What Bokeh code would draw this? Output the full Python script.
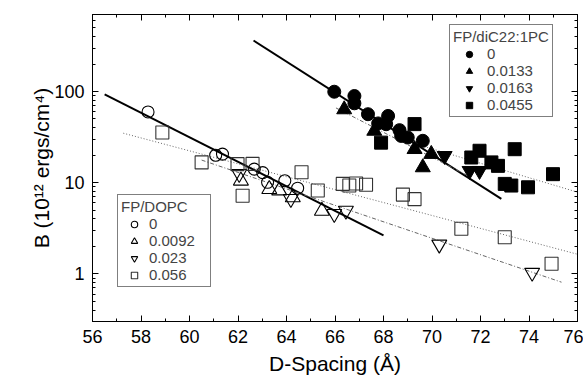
from bokeh.plotting import figure
from bokeh.models import (Range1d, LinearAxis, LogAxis, FixedTicker, CustomJSTickFormatter,
                          Legend, LegendItem)
from bokeh.embed import file_html
from bokeh.resources import INLINE

# ---------------- data ----------------
# FP/diC22:1PC (filled symbols)
c22_0_d = [65.97, 66.80, 66.80, 67.36, 68.19, 67.78, 68.11, 68.66, 68.73, 69.00, 69.62]
c22_0_b = [99.5, 89.3, 74.3, 56.4, 54.0, 44.7, 43.8, 37.7, 32.6, 31.3, 28.8]
c22_0133_d = [66.38, 67.62, 69.28, 69.97, 69.62]
c22_0133_b = [63.6, 37.0, 23.3, 20.6, 14.7]
c22_0163_d = [70.52, 71.55, 71.96]
c22_0163_b = [19.7, 13.5, 13.5]
c22_0455_d = [67.90, 69.28, 71.62, 71.96, 72.45, 72.72, 73.41, 73.00, 73.27, 73.96, 74.99]
c22_0455_b = [27.5, 43.9, 18.9, 22.4, 16.7, 15.3, 23.3, 9.7, 9.3, 8.9, 12.4]

# FP/DOPC (open symbols)
dopc_0_d = [58.29, 61.08, 61.36, 62.67, 63.02, 63.22, 63.93, 64.46]
dopc_0_b = [59.7, 20.0, 20.6, 14.1, 12.9, 10.1, 10.5, 8.7]
dopc_0092_d = [62.12, 63.29, 63.70, 64.26, 65.46]
dopc_0092_b = [10.5, 8.5, 8.2, 6.9, 4.9]
dopc_023_d = [62.05, 64.18, 65.97, 66.45, 70.30, 74.13]
dopc_023_b = [12.5, 6.65, 4.55, 4.95, 2.10, 1.03]
dopc_056_d = [58.88, 60.50, 61.98, 62.60, 62.19, 64.62, 65.29, 66.32, 66.59, 66.87, 67.28,
              68.80, 69.28, 71.21, 73.00, 74.93]
dopc_056_b = [35.5, 16.7, 16.0, 16.1, 7.2, 13.0, 8.2, 9.7, 9.3, 9.8, 9.5,
              7.4, 6.6, 3.12, 2.52, 1.29]

# fitted lines (end points)
fit_dopc_0_d = [56.5, 68.0]
fit_dopc_0_b = [93.0, 2.64]
fit_c22_0_d = [62.64, 72.86]
fit_c22_0_b = [363.0, 6.64]
fit_dopc_056_d = [57.27, 76.0]
fit_dopc_056_b = [34.9, 1.64]
fit_dopc_023_d = [60.5, 75.34]
fit_dopc_023_b = [17.7, 0.81]
fit_c22_0133_d = [66.04, 71.41]
fit_c22_0133_b = [66.1, 12.2]
fit_c22_0455_d = [68.73, 76.0]
fit_c22_0455_b = [29.7, 7.87]

x_ticks = [56, 58, 60, 62, 64, 66, 68, 70, 72, 74, 76]
x_minor = [57, 59, 61, 63, 65, 67, 69, 71, 73, 75]
y_ticks = [1, 10, 100]
y_minor = [0.3, 0.4, 0.5, 0.6, 0.7, 0.8, 0.9, 2, 3, 4, 5, 6, 7, 8, 9,
           20, 30, 40, 50, 60, 70, 80, 90, 200, 300, 400, 500, 600, 700]

FONT = "Liberation Sans"

p = figure(width=583, height=382, output_backend="svg", toolbar_location=None,
           y_axis_type="log", x_range=Range1d(56, 76), y_range=Range1d(0.3, 700),
           min_border_left=92, min_border_right=6, min_border_top=14, min_border_bottom=61)
p.background_fill_color = "white"
p.border_fill_color = "white"
p.outline_line_color = "black"
p.outline_line_width = 1
p.grid.visible = False

xt = FixedTicker(ticks=x_ticks, minor_ticks=x_minor)
yt = FixedTicker(ticks=y_ticks, minor_ticks=y_minor)
fmt = CustomJSTickFormatter(code="return String(tick)")
blank = CustomJSTickFormatter(code="return ''")

def style(ax, labels=True):
    ax.major_tick_in = 6
    ax.major_tick_out = 0
    ax.minor_tick_in = 3
    ax.minor_tick_out = 0
    ax.axis_line_color = "black"
    ax.major_tick_line_color = "black"
    ax.minor_tick_line_color = "black"
    if labels:
        ax.major_label_text_font = FONT
        ax.major_label_text_font_size = "18px"
        ax.major_label_text_color = "black"
        ax.major_label_standoff = 8
        ax.axis_label_text_font = FONT
        ax.axis_label_text_font_size = "21px"
        ax.axis_label_text_font_style = "normal"
        ax.axis_label_text_color = "black"
    else:
        ax.major_label_text_color = None
        ax.major_label_standoff = 0
        ax.axis_label = None

xa = p.xaxis[0]
xa.ticker = xt
xa.formatter = fmt
xa.axis_label = "D-Spacing (Å)"
style(xa)
xa.axis_label_standoff = 6

ya = p.yaxis[0]
ya.ticker = yt
ya.formatter = fmt
ya.axis_label = "B (10¹² ergs/cm⁴)"
style(ya)
ya.axis_label_standoff = -2

top = LinearAxis(ticker=FixedTicker(ticks=x_ticks, minor_ticks=x_minor), formatter=blank)
style(top, labels=False)
p.add_layout(top, "above")
right = LogAxis(ticker=FixedTicker(ticks=y_ticks, minor_ticks=y_minor), formatter=blank)
style(right, labels=False)
p.add_layout(right, "right")

# fit lines
p.line(fit_dopc_0_d, fit_dopc_0_b, line_color="black", line_width=2)
p.line(fit_c22_0_d, fit_c22_0_b, line_color="black", line_width=2)
p.line(fit_dopc_056_d, fit_dopc_056_b, line_color="#666666", line_width=1, line_dash="1 2")
p.line(fit_dopc_023_d, fit_dopc_023_b, line_color="#666666", line_width=1, line_dash="4 2 1 2")
p.line(fit_c22_0133_d, fit_c22_0133_b, line_color="#666666", line_width=1, line_dash="4 2 1 2")
p.line(fit_c22_0455_d, fit_c22_0455_b, line_color="#666666", line_width=1, line_dash="1 2")

# open symbols
r_o0 = p.scatter(dopc_0_d, dopc_0_b, marker="circle", size=12, fill_color=None,
                 line_color="black", line_width=1.1)
r_o1 = p.scatter(dopc_0092_d, dopc_0092_b, marker="triangle", size=15, fill_color=None,
                 line_color="black", line_width=1.1)
r_o2 = p.scatter(dopc_023_d, dopc_023_b, marker="inverted_triangle", size=15, fill_color=None,
                 line_color="black", line_width=1.1)
r_o3 = p.scatter(dopc_056_d, dopc_056_b, marker="square", size=13, fill_color=None,
                 line_color="#333333", line_width=1.1)

# filled symbols
r_f0 = p.scatter(c22_0_d, c22_0_b, marker="circle", size=13, fill_color="black", line_color="black")
r_f1 = p.scatter(c22_0133_d, c22_0133_b, marker="triangle", size=15, fill_color="black", line_color="black")
r_f2 = p.scatter(c22_0163_d, c22_0163_b, marker="inverted_triangle", size=15, fill_color="black", line_color="black")
r_f3 = p.scatter(c22_0455_d, c22_0455_b, marker="square", size=13, fill_color="black", line_color="black")

def make_legend(title, items, loc, gw, lw):
    lg = Legend(items=items, location=loc, title=title)
    lg.title_text_font = FONT
    lg.title_text_font_size = "15px"
    lg.title_text_font_style = "normal"
    lg.title_standoff = 0
    lg.label_text_font = FONT
    lg.label_text_font_size = "15px"
    lg.label_height = 14
    lg.label_width = lw
    lg.glyph_height = 16
    lg.glyph_width = gw
    lg.label_standoff = 2
    lg.spacing = 0
    lg.padding = 3
    lg.margin = 0
    lg.border_line_color = "black"
    lg.border_line_width = 1
    lg.background_fill_color = "white"
    lg.background_fill_alpha = 1
    return lg

lg1 = make_legend("FP/diC22:1PC", [
    LegendItem(label="0", renderers=[r_f0]),
    LegendItem(label="0.0133", renderers=[r_f1]),
    LegendItem(label="0.0163", renderers=[r_f2]),
    LegendItem(label="0.0455", renderers=[r_f3]),
], (357, 204), 32, 20)
lg2 = make_legend("FP/DOPC", [
    LegendItem(label="0", renderers=[r_o0]),
    LegendItem(label="0.0092", renderers=[r_o1]),
    LegendItem(label="0.023", renderers=[r_o2]),
    LegendItem(label="0.056", renderers=[r_o3]),
], (25, 34), 26, 58)
p.add_layout(lg1, "center")
p.add_layout(lg2, "center")

open("out.html", "w").write(file_html(p, INLINE))
